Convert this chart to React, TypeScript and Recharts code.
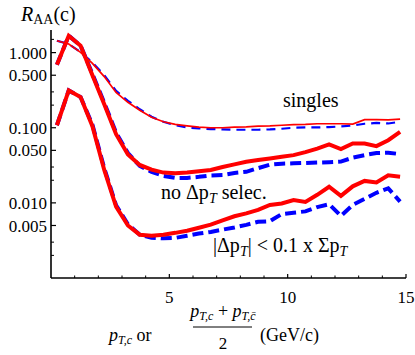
import React from 'react';
import { LineChart, Line, XAxis, YAxis } from 'recharts';

const xValues = [0.25, 0.75, 1.25, 1.75, 2.25, 2.75, 3.25, 3.75, 4.25, 4.75, 5.25, 5.75, 6.25, 6.75, 7.25, 7.75, 8.25, 8.75, 9.25, 9.75, 10.25, 10.75, 11.25, 11.75, 12.25, 12.75, 13.25, 13.75, 14.25, 14.75];

const singlesRed = [1.44, 1.3, 1.01, 0.72, 0.48, 0.295, 0.218, 0.171, 0.138, 0.12, 0.111, 0.106, 0.102, 0.1, 0.1, 0.102, 0.103, 0.105, 0.106, 0.108, 0.11, 0.111, 0.113, 0.113, 0.113, 0.112, 0.128, 0.128, 0.127, 0.13];
const singlesBlue = [1.44, 1.3, 1.02, 0.74, 0.5, 0.31, 0.228, 0.176, 0.14, 0.12, 0.108, 0.101, 0.098, 0.096, 0.095, 0.094, 0.094, 0.094, 0.095, 0.097, 0.1, 0.101, 0.101, 0.102, 0.104, 0.107, 0.113, 0.116, 0.114, 0.12];

const noSelRed = [0.69, 1.68, 1.24, 0.5, 0.205, 0.082, 0.044, 0.032, 0.0277, 0.0253, 0.0248, 0.0253, 0.0263, 0.0274, 0.03, 0.0325, 0.0352, 0.0371, 0.039, 0.0411, 0.0432, 0.0474, 0.0528, 0.06, 0.052, 0.0618, 0.0618, 0.0569, 0.0682, 0.088];
const noSelBlue = [0.69, 1.68, 1.24, 0.52, 0.215, 0.086, 0.046, 0.031, 0.0259, 0.0228, 0.0215, 0.0215, 0.0222, 0.0232, 0.0235, 0.025, 0.0259, 0.029, 0.0322, 0.0332, 0.0336, 0.034, 0.0344, 0.0348, 0.0354, 0.04, 0.0432, 0.046, 0.0465, 0.0446];

const cutRed = [0.108, 0.314, 0.256, 0.105, 0.0274, 0.0089, 0.005, 0.00377, 0.00364, 0.00377, 0.00399, 0.00426, 0.00466, 0.00512, 0.00586, 0.00663, 0.00725, 0.00807, 0.0094, 0.0098, 0.0109, 0.0103, 0.0128, 0.0164, 0.0124, 0.0166, 0.0196, 0.0187, 0.0233, 0.0223];
const cutBlue = [0.108, 0.314, 0.256, 0.11, 0.029, 0.0093, 0.0052, 0.00377, 0.00342, 0.00337, 0.00342, 0.00365, 0.0039, 0.0041, 0.0044, 0.0047, 0.0051, 0.0056, 0.0057, 0.0071, 0.0074, 0.0077, 0.0088, 0.0096, 0.0067, 0.0094, 0.0113, 0.0136, 0.0156, 0.0104];

const xTicks = [1, 2, 3, 4, 5, 6, 7, 8, 9, 10, 11, 12, 13, 14, 15];
const xLabelTicks = [5, 10, 15];
const yMajorTicks = [1, 0.5, 0.1, 0.05, 0.01, 0.005];
const yMajorLabels = ['1.000', '0.500', '0.100', '0.050', '0.010', '0.005'];
const yMinorTicks = [1.5, 0.3, 0.2, 0.03, 0.02, 0.003, 0.002];

const data = xValues.map((x, i) => ({
  x,
  singlesRed: singlesRed[i],
  singlesBlue: singlesBlue[i],
  noSelRed: noSelRed[i],
  noSelBlue: noSelBlue[i],
  cutRed: cutRed[i],
  cutBlue: cutBlue[i],
}));

const FONT = '"Liberation Serif", "DejaVu Serif", serif';
const RED = '#ff0000';
const BLUE = '#0000ff';

const YTick = (props: any) => {
  const { x, y, payload } = props;
  const v = payload.value;
  const idx = yMajorTicks.indexOf(v);
  const ax = x + 4;
  if (idx >= 0) {
    return (
      <g>
        <line x1={ax} x2={ax + 5} y1={y} y2={y} stroke="#000" strokeWidth={1.2} />
        <text x={x} y={y} dy="0.36em" textAnchor="end" fontFamily={FONT} fontSize={17} fill="#000">
          {yMajorLabels[idx]}
        </text>
      </g>
    );
  }
  return <line x1={ax} x2={ax + 3} y1={y} y2={y} stroke="#000" strokeWidth={1} />;
};

const XTick = (props: any) => {
  const { x, y, payload } = props;
  const v = payload.value;
  if (xLabelTicks.indexOf(v) >= 0) {
    return (
      <g>
        <line x1={x} x2={x} y1={y} y2={y - 4} stroke="#000" strokeWidth={1.2} />
        <text x={x} y={y + 25} textAnchor="middle" fontFamily={FONT} fontSize={17} fill="#000">
          {String(v)}
        </text>
      </g>
    );
  }
  return <line x1={x} x2={x} y1={y} y2={y - 2.5} stroke="#000" strokeWidth={1} />;
};

export default function App() {
  return (
    <div style={{ position: 'absolute', left: 0, top: 0, width: 415, height: 355, background: '#fff' }}>
      <LineChart width={415} height={355} data={data} margin={{ top: 30, right: 9, bottom: 47, left: 0 }}>
        <XAxis
          dataKey="x"
          type="number"
          domain={[0, 15]}
          ticks={xTicks}
          interval={0}
          height={30}
          tickSize={0}
          tickMargin={0}
          tickLine={false}
          axisLine={{ stroke: '#000', strokeWidth: 1.6 }}
          tick={(p: any) => <XTick {...p} />}
        />
        <YAxis
          type="number"
          scale="log"
          domain={[0.001, 2]}
          allowDataOverflow
          ticks={[...yMajorTicks, ...yMinorTicks]}
          interval={0}
          width={51}
          tickSize={0}
          tickMargin={4}
          tickLine={false}
          axisLine={{ stroke: '#000', strokeWidth: 1.6 }}
          tick={(p: any) => <YTick {...p} />}
        />
        <Line type="linear" dataKey="singlesBlue" stroke={BLUE} strokeWidth={2.2} strokeDasharray="9 6" dot={false} isAnimationActive={false} />
        <Line type="linear" dataKey="noSelBlue" stroke={BLUE} strokeWidth={4} strokeDasharray="11 5" dot={false} isAnimationActive={false} />
        <Line type="linear" dataKey="cutBlue" stroke={BLUE} strokeWidth={4} strokeDasharray="11 5" dot={false} isAnimationActive={false} />
        <Line type="linear" dataKey="singlesRed" stroke={RED} strokeWidth={1.7} dot={false} isAnimationActive={false} />
        <Line type="linear" dataKey="noSelRed" stroke={RED} strokeWidth={4} dot={false} isAnimationActive={false} />
        <Line type="linear" dataKey="cutRed" stroke={RED} strokeWidth={4} dot={false} isAnimationActive={false} />
      </LineChart>
      <svg width={415} height={355} style={{ position: 'absolute', left: 0, top: 0, pointerEvents: 'none' }}>
        <g fontFamily={FONT} fill="#000">
          <text x={21} y={21} fontSize={20}>
            <tspan fontStyle="italic">R</tspan>
            <tspan fontSize={14} dy={3}>AA</tspan>
            <tspan dy={-3}>(c)</tspan>
          </text>
          <text x={283} y={107} fontSize={20}>singles</text>
          <text x={161} y={199} fontSize={20}>
            <tspan>no Δp</tspan>
            <tspan fontSize={14} fontStyle="italic" dy={4}>T</tspan>
            <tspan dy={-4}> selec.</tspan>
          </text>
          <text x={213} y={252} fontSize={20}>
            <tspan>|Δp</tspan>
            <tspan fontSize={14} fontStyle="italic" dy={4}>T</tspan>
            <tspan dy={-4}>| &lt; 0.1 x Σp</tspan>
            <tspan fontSize={14} fontStyle="italic" dy={4}>T</tspan>
          </text>
          <text x={109} y={341} fontSize={18}>
            <tspan fontStyle="italic">p</tspan>
            <tspan fontSize={12} fontStyle="italic" dy={3}>T,c</tspan>
            <tspan dy={-3}> or</tspan>
          </text>
          <text x={223} y={317} fontSize={18} textAnchor="middle">
            <tspan fontStyle="italic">p</tspan>
            <tspan fontSize={12} fontStyle="italic" dy={3}>T,c</tspan>
            <tspan dy={-3}> + </tspan>
            <tspan fontStyle="italic">p</tspan>
            <tspan fontSize={12} fontStyle="italic" dy={3}>T,c̄</tspan>
          </text>
          <line x1={193} x2={252} y1={327} y2={327} stroke="#000" strokeWidth={1} />
          <text x={223} y={349} fontSize={17} textAnchor="middle">2</text>
          <text x={260} y={341} fontSize={18}>(GeV/c)</text>
        </g>
      </svg>
    </div>
  );
}
